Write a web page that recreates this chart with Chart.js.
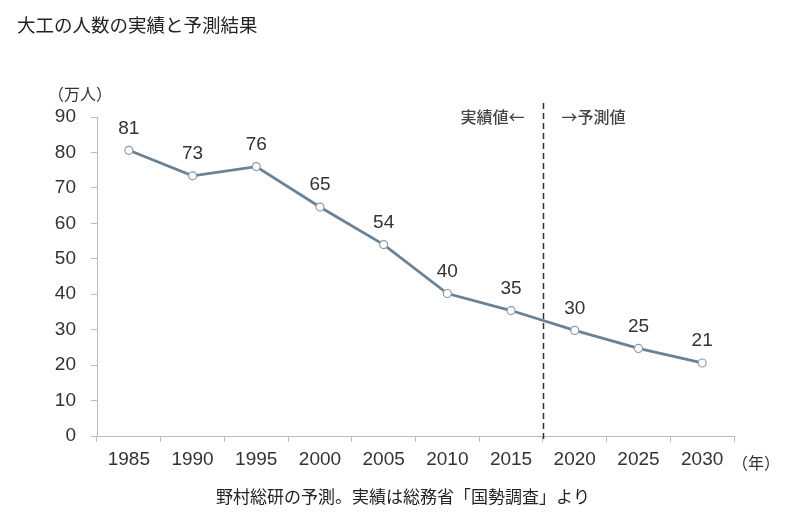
<!DOCTYPE html>
<html><head><meta charset="utf-8">
<script src="https://cdn.jsdelivr.net/npm/chart.js@4"></script>
<style>html,body{margin:0;padding:0;background:#fff;}#wrap{position:relative;width:800px;height:530px;}</style>
</head><body><div id="wrap"><canvas id="c" width="800" height="530"></canvas></div>
<script>
const years = ["1985","1990","1995","2000","2005","2010","2015","2020","2025","2030"];
const workers = [80.6, 73.4, 76.0, 64.6, 54.0, 40.2, 35.4, 29.8, 24.7, 20.6];
const valueLabels = ["81","73","76","65","54","40","35","30","25","21"];
const yTicks = [0,10,20,30,40,50,60,70,80,90];
const title = "大工の人数の実績と予測結果";
const caption = "野村総研の予測。実績は総務省「国勢調査」より";
const yUnit = "（万人）";
const xUnit = "（年）";
const leftNote = "実績値←";
const rightNote = "→予測値";
const splitAfterIndex = 6;

const JP = '"Noto Sans CJK JP", "Noto Sans", sans-serif';
const NUM = '"Liberation Sans", Arial, sans-serif';

const extras = {
  id: 'extras',
  afterDraw(chart) {
    const ctx = chart.ctx, x = chart.scales.x, y = chart.scales.y;
    const area = chart.chartArea;
    ctx.save();
    // value labels
    ctx.fillStyle = '#333';
    ctx.font = '19px ' + NUM;
    ctx.textAlign = 'center';
    ctx.textBaseline = 'middle';
    workers.forEach((v, i) => {
      ctx.fillText(valueLabels[i], x.getPixelForValue(i), y.getPixelForValue(v) - 22);
    });
    // split dashed line
    const sx = Math.round((x.getPixelForValue(splitAfterIndex) + x.getPixelForValue(splitAfterIndex + 1)) / 2) + 0.5;
    ctx.strokeStyle = '#333';
    ctx.lineWidth = 1.5;
    ctx.setLineDash([6, 4]);
    ctx.beginPath();
    ctx.moveTo(sx, area.top - 14);
    ctx.lineTo(sx, area.bottom + 6);
    ctx.stroke();
    ctx.setLineDash([]);
    // notes
    ctx.font = '500 16px ' + JP;
    ctx.fillStyle = '#444';
    ctx.textAlign = 'right';
    ctx.fillText(leftNote, sx - 19, area.top);
    ctx.textAlign = 'left';
    ctx.fillText(rightNote, sx + 18, area.top);
    // units
    ctx.font = '16px ' + JP;
    ctx.fillStyle = '#333';
    ctx.textAlign = 'left';
    ctx.fillText(yUnit, 48, area.top - 23);
    ctx.fillText(xUnit, area.right - 2, area.bottom + 27);
    // title & caption
    ctx.font = '18.5px ' + JP;
    ctx.fillStyle = '#222';
    ctx.textAlign = 'left';
    ctx.fillText(title, 17, 25);
    ctx.font = '17px ' + JP;
    ctx.textAlign = 'center';
    ctx.fillText(caption, 403, 497);
    ctx.restore();
  }
};

new Chart(document.getElementById('c'), {
  type: 'line',
  data: {
    labels: years,
    datasets: [{
      data: workers,
      borderColor: '#6a8296',
      borderWidth: 2.8,
      pointRadius: 4,
      pointBackgroundColor: '#fff',
      pointBorderColor: '#8a9aa8',
      pointBorderWidth: 1.2,
      tension: 0
    }]
  },
  options: {
    responsive: false,
    animation: false,
    layout: { padding: { left: 0, right: 66, top: 117, bottom: 0 } },
    plugins: { legend: { display: false }, tooltip: { enabled: false } },
    scales: {
      x: {
        offset: true,
        grid: { display: true, drawOnChartArea: false, drawTicks: true, tickLength: 6, color: '#bbb', offset: true },
        border: { color: '#bbb', width: 1 },
        ticks: { color: '#333', font: { size: 19, family: NUM }, padding: 6, maxRotation: 0 },
        afterFit(s) { s.height = 94; }
      },
      y: {
        min: 0, max: 90,
        afterBuildTicks(s) { s.ticks = yTicks.map(v => ({ value: v })); },
        grid: { display: true, drawOnChartArea: false, drawTicks: true, tickLength: 6, color: '#bbb' },
        border: { color: '#bbb', width: 1 },
        ticks: { color: '#333', font: { size: 19, family: NUM }, padding: 15 },
        afterFit(s) { s.width = 97; }
      }
    }
  },
  plugins: [extras]
});
</script></body></html>
